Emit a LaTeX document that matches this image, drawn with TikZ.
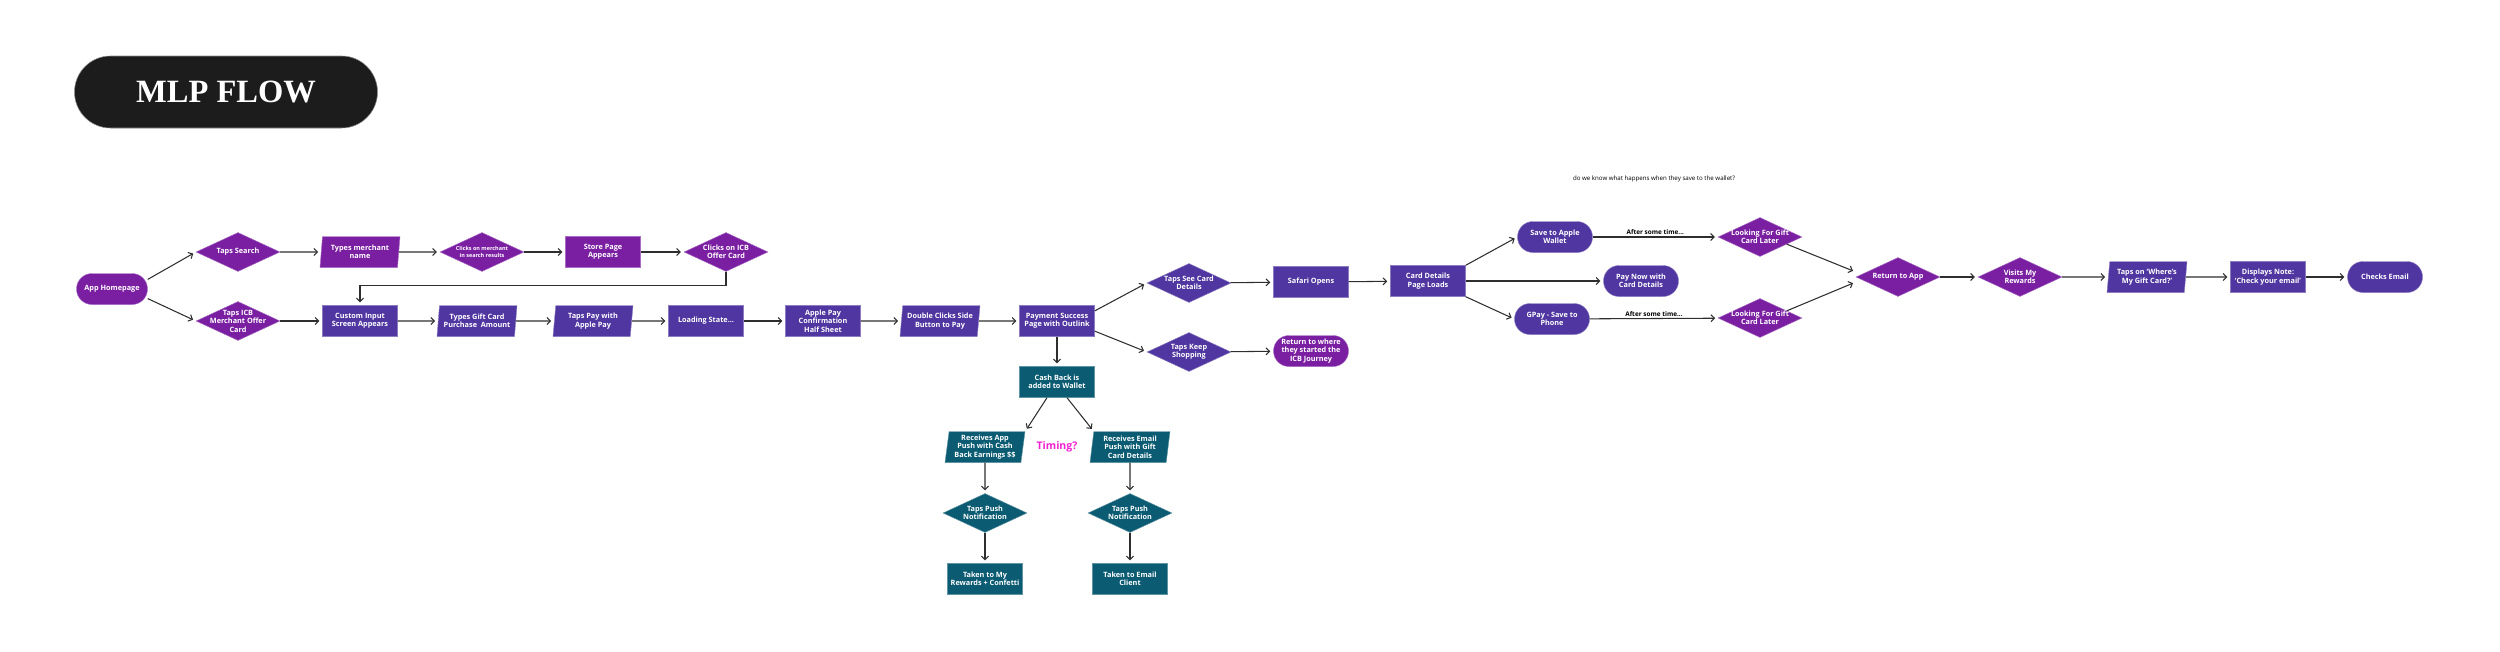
\documentclass[tikz,border=0pt]{standalone}
\usepackage{fontspec}
\setmainfont{Open Sans}
\newfontfamily\titlefont{Liberation Serif}
\usetikzlibrary{positioning,shapes.geometric,arrows.meta}

\definecolor{mlppurple}{HTML}{7B1FA2}
\definecolor{mlpindigo}{HTML}{5036A0}
\definecolor{mlpteal}{HTML}{0B5B73}
\definecolor{timingpink}{HTML}{F21FD0}

\tikzset{
  box/.style={rectangle, fill=#1, draw=#1!65!white, line width=0.5pt, text=white,
    minimum width=30mm, minimum height=12.4mm, inner sep=1pt, align=center,
    font=\fontsize{8.3}{9.6}\selectfont\bfseries},
  pill/.style={box=#1, rounded corners=6.2mm},
  para/.style={box=#1, trapezium, trapezium left angle=81, trapezium right angle=99,
    trapezium stretches body, minimum width=32mm},
  dia/.style={box=#1, diamond, aspect=2.15, minimum width=33.6mm, minimum height=15.6mm,
    inner xsep=-5mm, inner ysep=-2mm},
  arr/.style={draw=black!82, line width=1.2pt, -{Straight Barb[length=1.4mm,width=2.8mm]},
    shorten >=1.2mm},
  later/.style={above, inner sep=2pt, font=\fontsize{7.3}{8}\selectfont\bfseries}
}

\begin{document}
\begin{tikzpicture}[x=0.4mm, y=-0.4mm]
\useasboundingbox (0,0) rectangle (2500,651);

% title
\node[rectangle, rounded corners=14.4mm, fill=black!89, draw=black!45, line width=0.6pt,
  minimum width=121.2mm, minimum height=28.8mm, text=white] (title) at (226,92)
  {\titlefont\fontsize{37}{40}\selectfont\bfseries MLP FLOW};

% entry and search branch
\node[pill=mlppurple, minimum width=28.4mm] (home) at (112,289) {App Homepage};
\node[dia=mlppurple] (search) at (238,252) {Taps Search};
\node[dia=mlppurple] (ticb) at (238,321) {Taps ICB\\Merchant Offer\\Card};
\node[para=mlppurple] (merchant) at (360,252) {Types merchant\\name};
\node[dia=mlppurple, font=\fontsize{6.2}{7.6}\selectfont\bfseries] (clickm) at (482,252) {Clicks on merchant\\in search results};
\node[box=mlppurple] (store) at (603,252) {Store Page\\Appears};
\node[dia=mlppurple] (icboffer) at (726,252) {Clicks on ICB\\Offer Card};

% purchase row
\node[box=mlpindigo] (custom) at (360,321) {Custom Input\\Screen Appears};
\node[para=mlpindigo] (giftamt) at (477,321) {Types Gift Card\\Purchase\ \ Amount};
\node[para=mlpindigo] (payapple) at (593,321) {Taps Pay with\\Apple Pay};
\node[box=mlpindigo] (loading) at (706,321) {Loading State...};
\node[box=mlpindigo] (apconf) at (823,321) {Apple Pay\\Confirmation\\Half Sheet};
\node[para=mlpindigo] (dblclick) at (940,321) {Double Clicks Side\\Button to Pay};
\node[box=mlpindigo] (pay) at (1057,321) {Payment Success\\Page with Outlink};

% after payment
\node[dia=mlpindigo] (seecard) at (1189,283) {Taps See Card\\Details};
\node[dia=mlpindigo] (keepshop) at (1189,352) {Taps Keep\\Shopping};
\node[box=mlpindigo] (safari) at (1311,282) {Safari Opens};
\node[pill=mlppurple] (backicb) at (1311,351) {Return to where\\they started the\\ICB Journey};
\node[box=mlpindigo] (card) at (1428,281) {Card Details\\Page Loads};
\node[pill=mlpindigo] (save) at (1555,237) {Save to Apple\\Wallet};
\node[pill=mlpindigo] (paynow) at (1641,281) {Pay Now with\\Card Details};
\node[pill=mlpindigo] (gpay) at (1552,319) {GPay - Save to\\Phone};
\node[dia=mlppurple] (lt) at (1760,237) {Looking For Gift\\Card Later};
\node[dia=mlppurple] (lb) at (1760,318) {Looking For Gift\\Card Later};
\node[dia=mlppurple] (ret) at (1898,277) {Return to App};
\node[dia=mlppurple] (visits) at (2020,277) {Visits My\\Rewards};
\node[para=mlpindigo] (whereis) at (2147,277) {Taps on `Where's\\My Gift Card?'};
\node[box=mlpindigo] (displays) at (2268,277) {Displays Note:\\`Check your email'};
\node[pill=mlpindigo] (checks) at (2385,277) {Checks Email};

\node[font=\fontsize{7}{8}\selectfont] (note) at (1654,179) {do we know what happens when they save to the wallet?};

% cash back column
\node[box=mlpteal] (cash) at (1057,382) {Cash Back is\\added to Wallet};
\node[para=mlpteal] (recapp) at (985,447) {Receives App\\Push with Cash\\Back Earnings \$\$};
\node[para=mlpteal] (recmail) at (1130,447) {Receives Email\\Push with Gift\\Card Details};
\node[dia=mlpteal] (pushl) at (985,513) {Taps Push\\Notification};
\node[dia=mlpteal] (pushr) at (1130,513) {Taps Push\\Notification};
\node[box=mlpteal] (rewards) at (985,579) {Taken to My\\Rewards + Confetti};
\node[box=mlpteal] (emailc) at (1130,579) {Taken to Email\\Client};
\node[text=timingpink, font=\fontsize{12}{14}\selectfont\bfseries] (timing) at (1057,447) {Timing?};

% connectors
\draw[arr] (home.15) -- (search.west);
\draw[arr] (home.-15) -- (ticb.west);
\draw[arr] (search) -- (merchant);
\draw[arr] (merchant) -- (clickm);
\draw[arr] (clickm) -- (store);
\draw[arr] (store) -- (icboffer);
\draw[arr] (icboffer.south) -- ++(0,14) -| (custom.north);
\draw[arr] (ticb) -- (custom);
\draw[arr] (custom) -- (giftamt);
\draw[arr] (giftamt) -- (payapple);
\draw[arr] (payapple) -- (loading);
\draw[arr] (loading) -- (apconf);
\draw[arr] (apconf) -- (dblclick);
\draw[arr] (dblclick) -- (pay);
\draw[arr] (pay.15) -- (seecard.west);
\draw[arr] (pay.-15) -- (keepshop.west);
\draw[arr] (pay) -- (cash);
\draw[arr] (seecard) -- (safari);
\draw[arr] (keepshop) -- (backicb);
\draw[arr] (safari) -- (card);
\draw[arr] (card.north east) -- (save.west);
\draw[arr] (card) -- (paynow);
\draw[arr] (card.south east) -- (gpay.west);
\draw[arr] (save) -- node[later] {After some time...} (lt);
\draw[arr] (gpay) -- node[later] {After some time...} (lb);
\draw[arr] (lt.-15) -- ([yshift=2mm]ret.west);
\draw[arr] (lb.15) -- ([yshift=-2mm]ret.west);
\draw[arr] (ret) -- (visits);
\draw[arr] (visits) -- (whereis);
\draw[arr] (whereis) -- (displays);
\draw[arr] (displays) -- (checks);
\draw[arr] ([xshift=-4mm]cash.south) -- (recapp.top right corner);
\draw[arr] ([xshift=4mm]cash.south) -- (recmail.top left corner);
\draw[arr] (recapp) -- (pushl);
\draw[arr] (pushl) -- (rewards);
\draw[arr] (recmail) -- (pushr);
\draw[arr] (pushr) -- (emailc);

\end{tikzpicture}
\end{document}
